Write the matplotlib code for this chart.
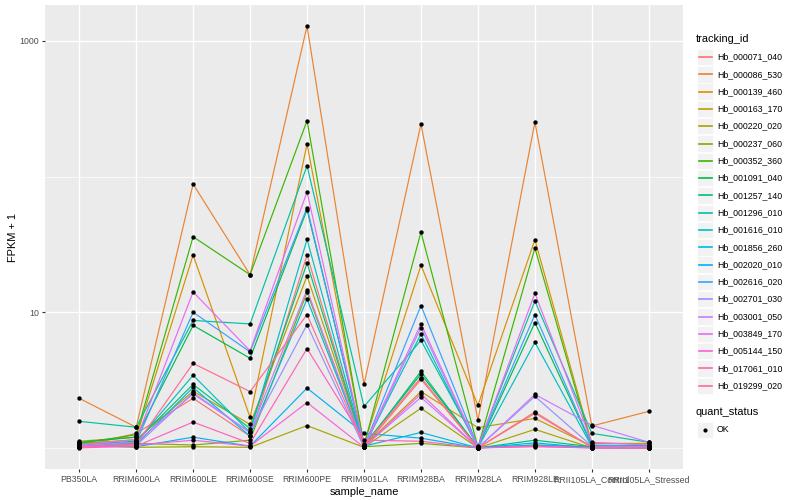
import numpy as np
import matplotlib
matplotlib.use("Agg")
import matplotlib.pyplot as plt
from matplotlib.patches import Rectangle
from matplotlib.lines import Line2D

plt.rcParams['font.family'] = ['Liberation Sans', 'DejaVu Sans']

# samples on the x axis
sample_name = ["PB350LA", "RRIM600LA", "RRIM600LE", "RRIM600SE", "RRIM600PE",
               "RRIM901LA", "RRIM928BA", "RRIM928LA", "RRIM928LE",
               "RRII105LA_Control", "RRII105LA_Stressed"]

tracking_id = ["Hb_000071_040", "Hb_000086_530", "Hb_000139_460", "Hb_000163_170",
               "Hb_000220_020", "Hb_000237_060", "Hb_000352_360", "Hb_001091_040",
               "Hb_001257_140", "Hb_001296_010", "Hb_001616_010", "Hb_001856_260",
               "Hb_002020_010", "Hb_002616_020", "Hb_002701_030", "Hb_003001_050",
               "Hb_003849_170", "Hb_005144_150", "Hb_017061_010", "Hb_019299_020"]

# ggplot hue palette, 20 levels
colors = ["#F8766D", "#EA8331", "#D89000", "#C09B00", "#A3A500", "#7CAE00", "#39B600",
          "#00BB4E", "#00BF7D", "#00C1A3", "#00BFC4", "#00BAE0", "#00B0F6", "#35A2FF",
          "#9590FF", "#C77CFF", "#E76BF3", "#FA62DB", "#FF62BC", "#FF6C91"]

# FPKM + 1 per gene, one value per sample
hb_000071_040 = [1.02, 1.28, 2.32, 1.22, 26.4, 1.01, 3.2, 1.0, 1.84, 1.01, 1.0]
hb_000086_530 = [2.32, 1.42, 88, 18.9, 1285, 2.94, 244, 1.6, 252, 1.45, 1.86]
hb_000139_460 = [1.12, 1.2, 26.4, 1.68, 174, 1.06, 22.2, 2.06, 34.2, 1.08, 1.08]
hb_000163_170 = [1.08, 1.15, 2.62, 1.49, 18.5, 1.03, 2.6, 1.41, 1.65, 1.03, 1.02]
hb_000220_020 = [1.05, 1.01, 1.02, 1.01, 1.46, 1.01, 1.96, 1.0, 1.37, 1.0, 1.0]
hb_000237_060 = [1.06, 1.08, 1.05, 1.14, 14.0, 1.02, 1.08, 1.0, 1.05, 1.02, 1.01]
hb_000352_360 = [1.08, 1.25, 36, 18.9, 258, 1.04, 39, 1.01, 29.7, 1.04, 1.05]
hb_001091_040 = [1.1, 1.2, 8.0, 4.58, 57, 1.05, 3.5, 1.01, 8.4, 1.04, 1.04]
hb_001257_140 = [1.06, 1.12, 2.94, 1.39, 23, 1.02, 3.67, 1.0, 1.14, 1.02, 1.01]
hb_001296_010 = [1.57, 1.42, 8.7, 8.2, 120, 2.02, 6.2, 1.03, 12.1, 1.28, 1.1]
hb_001616_010 = [1.05, 1.1, 3.43, 1.3, 34.4, 1.02, 6.9, 1.0, 6.0, 1.02, 1.02]
hb_001856_260 = [1.04, 1.06, 2.79, 1.22, 12.5, 1.03, 1.3, 1.0, 1.05, 1.01, 1.0]
hb_002020_010 = [1.03, 1.02, 1.2, 1.03, 2.76, 1.28, 1.18, 1.0, 1.09, 1.0, 1.0]
hb_002616_020 = [1.03, 1.1, 10.0, 5.1, 59, 1.02, 11.2, 1.02, 9.6, 1.05, 1.03]
hb_002701_030 = [1.02, 1.04, 2.55, 1.3, 8.1, 1.01, 7.7, 1.0, 2.4, 1.03, 1.02]
hb_003001_050 = [1.04, 1.1, 2.5, 1.3, 14.7, 1.02, 2.36, 1.0, 2.48, 1.47, 1.1]
hb_003849_170 = [1.05, 1.15, 14.1, 5.2, 77, 1.03, 8.2, 1.01, 13.8, 1.1, 1.05]
hb_005144_150 = [1.01, 1.05, 1.14, 1.03, 2.16, 1.01, 2.5, 1.0, 1.03, 1.0, 1.0]
hb_017061_010 = [1.0, 1.03, 1.55, 1.08, 5.4, 1.14, 1.12, 1.0, 1.02, 1.0, 1.0]
hb_019299_020 = [1.02, 1.06, 4.2, 2.6, 9.6, 1.04, 3.3, 1.0, 1.8, 1.01, 1.0]

series = [hb_000071_040, hb_000086_530, hb_000139_460, hb_000163_170, hb_000220_020,
          hb_000237_060, hb_000352_360, hb_001091_040, hb_001257_140, hb_001296_010,
          hb_001616_010, hb_001856_260, hb_002020_010, hb_002616_020, hb_002701_030,
          hb_003001_050, hb_003849_170, hb_005144_150, hb_017061_010, hb_019299_020]

fig = plt.figure(figsize=(8, 5), dpi=100)
ax = fig.add_axes([45/800, 31/500, 638/800, 464/500])
ax.set_facecolor("#EBEBEB")

x = np.arange(len(sample_name))
for vals, col in zip(series, colors):
    ax.plot(x, vals, color=col, lw=0.85, zorder=3)
for vals in series:
    ax.scatter(x, vals, s=10, color="black", zorder=4, linewidths=0)

ax.set_yscale("log")
allv = np.log10(np.concatenate([np.array(s, float) for s in series]))
lo, hi = allv.min(), allv.max()
pad = (hi - lo) * 0.05
ax.set_ylim(10 ** (lo - pad), 10 ** (hi + pad))
ax.set_xlim(-0.6, len(sample_name) - 0.4)

ax.set_yticks([10, 1000])
ax.set_yticklabels(["10", "1000"])
ax.set_yticks([1, 100], minor=True)
ax.yaxis.set_minor_formatter(matplotlib.ticker.NullFormatter())
ax.set_xticks(x)
ax.set_xticklabels(sample_name)

ax.grid(True, which="major", color="white", lw=1.0)
ax.grid(True, which="minor", axis="y", color="white", lw=0.5)
ax.set_axisbelow(True)
for s in ax.spines.values():
    s.set_visible(False)
ax.tick_params(which="major", length=2.2, width=0.8, color="#333333",
               labelsize=6.3, labelcolor="#4D4D4D", pad=2)
ax.tick_params(which="minor", length=0)

ax.set_xlabel("sample_name", fontsize=7.9, labelpad=2)
ax.set_ylabel("FPKM + 1", fontsize=7.9, labelpad=1)

# legends, drawn in pixel coords
lax = fig.add_axes([0, 0, 1, 1], zorder=-1)
lax.set_xlim(0, 800)
lax.set_ylim(500, 0)
lax.axis("off")

lax.text(696, 39, "tracking_id", fontsize=7.9, va="center", ha="left")
row = 17.3
for i, (tid, col) in enumerate(zip(tracking_id, colors)):
    yc = 57 + i * row
    lax.add_patch(Rectangle((697, yc - 8.2), 16.4, 16.4, facecolor="#F2F2F2", edgecolor="white", lw=0.5))
    lax.add_line(Line2D([698.5, 711.5], [yc, yc], color=col, lw=1.2))
    lax.text(717, yc, tid, fontsize=6.3, va="center", ha="left")

lax.text(696, 412, "quant_status", fontsize=7.9, va="center", ha="left")
lax.add_patch(Rectangle((697, 421.5), 16.4, 16.4, facecolor="#F2F2F2", edgecolor="white", lw=0.5))
lax.plot([705], [429.7], marker="o", ms=3, color="black", mew=0)
lax.text(717, 429.7, "OK", fontsize=6.3, va="center", ha="left")

fig.savefig("out.png", dpi=100)
